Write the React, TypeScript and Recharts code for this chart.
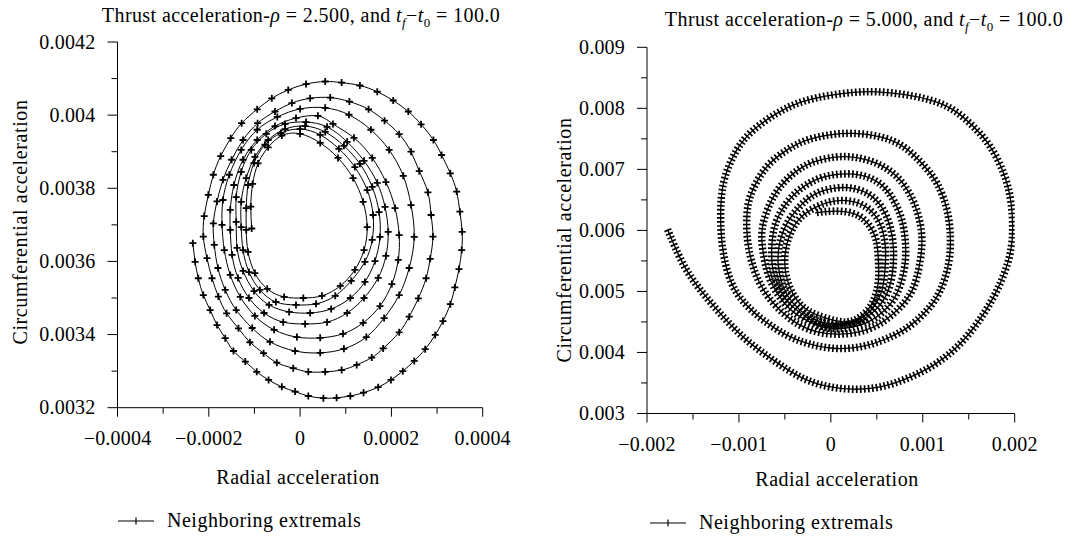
import React from 'react';
import { LineChart, Line, XAxis, YAxis } from 'recharts';

const FONT = "'Liberation Serif', 'Times New Roman', serif";

// left panel, rho = 2.5 (one row per loop)
const leftRadial = [
  -235e-6, -230e-6, -223e-6, -212e-6, -197e-6, -182e-6, -164e-6, -146e-6, -120e-6, -95e-6, -69e-6, -40e-6, -11e-6, 18e-6, 51e-6, 80e-6, 110e-6, 139e-6, 171e-6, 199e-6, 225e-6, 250e-6, 274e-6, 296e-6, 313e-6, 329e-6, 339e-6, 348e-6, 354e-6, 355e-6, 350e-6, 343e-6, 329e-6, 310e-6, 292e-6, 265e-6, 237e-6, 204e-6, 169e-6, 131e-6, 91e-6, 55e-6, 13e-6, -26e-6, -62e-6, -94e-6, -128e-6, -152e-6, -174e-6, -190e-6, -201e-6, -210e-6, -212e-6,
  -204e-6, -193e-6, -179e-6, -161e-6, -135e-6, -110e-6, -80e-6, -51e-6, -15e-6, 18e-6, 55e-6, 91e-6, 124e-6, 157e-6, 182e-6, 217e-6, 239e-6, 259e-6, 276e-6, 285e-6, 291e-6, 287e-6, 280e-6, 261e-6, 243e-6, 217e-6, 185e-6, 150e-6, 108e-6, 66e-6, 22e-6, -18e-6, -55e-6, -93e-6, -125e-6, -150e-6, -169e-6, -182e-6, -190e-6,
  -188e-6, -180e-6, -164e-6, -140e-6, -105e-6, -66e-6, -11e-6, 44e-6, 96e-6, 145e-6, 184e-6, 217e-6, 239e-6, 250e-6, 243e-6, 226e-6, 195e-6, 155e-6, 107e-6, 55e-6, 0, -50e-6, -94e-6, -129e-6, -155e-6, -169e-6, -171e-6,
  -166e-6, -153e-6, -131e-6, -99e-6, -57e-6, -7e-6, 44e-6, 94e-6, 138e-6, 175e-6, 201e-6, 215e-6, 217e-6, 208e-6, 188e-6, 158e-6, 118e-6, 72e-6, 39e-6, -9e-6, -55e-6, -94e-6, -125e-6, -145e-6, -153e-6, -153e-6,
  -149e-6, -136e-6, -112e-6, -79e-6, -37e-6, 11e-6, 59e-6, 103e-6, 140e-6, 171e-6, 188e-6, 193e-6, 186e-6, 169e-6, 140e-6, 103e-6, 59e-6, 13e-6, -33e-6, -74e-6, -107e-6, -129e-6, -140e-6, -140e-6,
  -138e-6, -125e-6, -101e-6, -68e-6, -24e-6, 22e-6, 68e-6, 110e-6, 142e-6, 164e-6, 175e-6, 173e-6, 158e-6, 131e-6, 96e-6, 55e-6, 11e-6, -33e-6, -70e-6, -99e-6, -118e-6, -129e-6, -129e-6,
  -125e-6, -112e-6, -88e-6, -53e-6, -9e-6, 35e-6, 77e-6, 112e-6, 142e-6, 158e-6, 160e-6, 147e-6, 120e-6, 85e-6, 44e-6, 0, -42e-6, -77e-6, -101e-6, -114e-6, -118e-6, -118e-6,
  -114e-6, -99e-6, -72e-6, -35e-6, 7e-6, 48e-6, 88e-6, 120e-6, 140e-6, 147e-6, 138e-6, 116e-6, 83e-6, 44e-6, 0, -40e-6, -70e-6, -92e-6, -104e-6, -108e-6, -106e-6,
];
const leftCircum = [
  3650e-6, 3599e-6, 3554e-6, 3508e-6, 3467e-6, 3426e-6, 3390e-6, 3355e-6, 3326e-6, 3298e-6, 3276e-6, 3257e-6, 3244e-6, 3232e-6, 3226e-6, 3227e-6, 3232e-6, 3241e-6, 3256e-6, 3276e-6, 3300e-6, 3328e-6, 3360e-6, 3399e-6, 3437e-6, 3483e-6, 3529e-6, 3579e-6, 3631e-6, 3681e-6, 3736e-6, 3791e-6, 3841e-6, 3891e-6, 3932e-6, 3975e-6, 4010e-6, 4040e-6, 4064e-6, 4081e-6, 4089e-6, 4092e-6, 4085e-6, 4069e-6, 4046e-6, 4016e-6, 3978e-6, 3937e-6, 3888e-6, 3837e-6, 3782e-6, 3724e-6, 3668e-6,
  3609e-6, 3554e-6, 3504e-6, 3458e-6, 3417e-6, 3379e-6, 3349e-6, 3323e-6, 3308e-6, 3298e-6, 3298e-6, 3303e-6, 3317e-6, 3337e-6, 3362e-6, 3406e-6, 3449e-6, 3499e-6, 3554e-6, 3607e-6, 3668e-6, 3727e-6, 3789e-6, 3847e-6, 3900e-6, 3948e-6, 3985e-6, 4016e-6, 4037e-6, 4048e-6, 4046e-6, 4033e-6, 4010e-6, 3978e-6, 3932e-6, 3878e-6, 3823e-6, 3764e-6, 3704e-6,
  3645e-6, 3582e-6, 3522e-6, 3467e-6, 3418e-6, 3380e-6, 3355e-6, 3350e-6, 3361e-6, 3393e-6, 3445e-6, 3508e-6, 3582e-6, 3667e-6, 3754e-6, 3834e-6, 3905e-6, 3960e-6, 4001e-6, 4020e-6, 4017e-6, 3995e-6, 3960e-6, 3905e-6, 3837e-6, 3768e-6, 3700e-6,
  3631e-6, 3563e-6, 3503e-6, 3451e-6, 3413e-6, 3393e-6, 3391e-6, 3402e-6, 3432e-6, 3478e-6, 3538e-6, 3604e-6, 3672e-6, 3746e-6, 3817e-6, 3883e-6, 3938e-6, 3976e-6, 3998e-6, 3992e-6, 3970e-6, 3932e-6, 3878e-6, 3809e-6, 3741e-6, 3686e-6,
  3618e-6, 3555e-6, 3500e-6, 3459e-6, 3434e-6, 3429e-6, 3434e-6, 3459e-6, 3500e-6, 3555e-6, 3615e-6, 3681e-6, 3749e-6, 3815e-6, 3875e-6, 3927e-6, 3968e-6, 3981e-6, 3976e-6, 3949e-6, 3905e-6, 3845e-6, 3776e-6, 3708e-6,
  3637e-6, 3574e-6, 3519e-6, 3481e-6, 3462e-6, 3459e-6, 3470e-6, 3500e-6, 3544e-6, 3601e-6, 3667e-6, 3735e-6, 3804e-6, 3867e-6, 3916e-6, 3954e-6, 3970e-6, 3962e-6, 3932e-6, 3886e-6, 3828e-6, 3763e-6, 3694e-6,
  3631e-6, 3571e-6, 3522e-6, 3489e-6, 3481e-6, 3484e-6, 3506e-6, 3547e-6, 3599e-6, 3659e-6, 3727e-6, 3795e-6, 3858e-6, 3908e-6, 3946e-6, 3962e-6, 3951e-6, 3919e-6, 3869e-6, 3809e-6, 3746e-6, 3686e-6,
  3626e-6, 3568e-6, 3525e-6, 3503e-6, 3500e-6, 3506e-6, 3533e-6, 3577e-6, 3631e-6, 3694e-6, 3763e-6, 3828e-6, 3883e-6, 3924e-6, 3949e-6, 3944e-6, 3912e-6, 3868e-6, 3812e-6, 3750e-6, 3690e-6,
];

// right panel, rho = 5.0
const rightRadial = [
  -1776e-6, -1696e-6, -1569e-6, -1388e-6, -1170e-6, -915e-6, -625e-6, -334e-6, -44e-6, 246e-6, 537e-6, 828e-6, 1118e-6, 1373e-6, 1590e-6, 1771e-6, 1899e-6, 1972e-6, 1961e-6, 1880e-6, 1735e-6, 1553e-6, 1335e-6, 1082e-6, 791e-6, 501e-6, 246e-6, -44e-6, -334e-6, -588e-6, -843e-6, -1024e-6, -1151e-6, -1195e-6, -1195e-6,
  -1162e-6, -1078e-6, -934e-6, -734e-6, -479e-6, -225e-6, 65e-6, 355e-6, 610e-6, 845e-6, 1046e-6, 1191e-6, 1281e-6, 1300e-6, 1264e-6, 1155e-6, 991e-6, 791e-6, 537e-6, 246e-6, -8e-6, -261e-6, -479e-6, -680e-6, -825e-6, -901e-6, -915e-6,
  -890e-6, -825e-6, -716e-6, -552e-6, -356e-6, -138e-6, 101e-6, 341e-6, 559e-6, 744e-6, 886e-6, 962e-6, 991e-6, 951e-6, 853e-6, 700e-6, 493e-6, 265e-6, 47e-6, -193e-6, -389e-6, -563e-6, -683e-6, -748e-6,
  -737e-6, -683e-6, -585e-6, -443e-6, -269e-6, -84e-6, 112e-6, 319e-6, 493e-6, 646e-6, 755e-6, 809e-6, 809e-6, 766e-6, 668e-6, 526e-6, 319e-6, 101e-6, -117e-6, -334e-6, -498e-6, -607e-6, -643e-6, -629e-6, -552e-6, -422e-6, -247e-6, -84e-6,
  123e-6, 308e-6, 472e-6, 602e-6, 668e-6, 682e-6, 646e-6, 559e-6, 428e-6, 243e-6, 47e-6, -171e-6, -346e-6, -487e-6, -563e-6, -571e-6, -520e-6, -411e-6, -247e-6, -51e-6,
  156e-6, 330e-6, 472e-6, 559e-6, 591e-6, 591e-6, 537e-6, 428e-6, 265e-6, 58e-6, -138e-6, -324e-6, -443e-6, -498e-6, -487e-6, -411e-6, -269e-6, -51e-6,
  167e-6, 330e-6, 450e-6, 515e-6, 518e-6, 493e-6, 406e-6, 265e-6, 47e-6, -171e-6,
];
const rightCircum = [
  6016e-6, 5731e-6, 5349e-6, 4967e-6, 4583e-6, 4201e-6, 3874e-6, 3600e-6, 3447e-6, 3398e-6, 3436e-6, 3574e-6, 3792e-6, 4092e-6, 4475e-6, 4911e-6, 5349e-6, 5840e-6, 6442e-6, 6934e-6, 7370e-6, 7697e-6, 7971e-6, 8135e-6, 8228e-6, 8271e-6, 8261e-6, 8205e-6, 8097e-6, 7917e-6, 7643e-6, 7315e-6, 6878e-6, 6442e-6, 6004e-6,
  5567e-6, 5131e-6, 4803e-6, 4529e-6, 4283e-6, 4136e-6, 4065e-6, 4103e-6, 4229e-6, 4419e-6, 4693e-6, 5021e-6, 5458e-6, 5894e-6, 6332e-6, 6770e-6, 7097e-6, 7370e-6, 7533e-6, 7589e-6, 7566e-6, 7479e-6, 7315e-6, 7070e-6, 6742e-6, 6414e-6, 6037e-6,
  5676e-6, 5316e-6, 4988e-6, 4693e-6, 4464e-6, 4333e-6, 4300e-6, 4349e-6, 4496e-6, 4726e-6, 5021e-6, 5414e-6, 5840e-6, 6250e-6, 6611e-6, 6906e-6, 7102e-6, 7196e-6, 7201e-6, 7119e-6, 6955e-6, 6693e-6, 6365e-6, 6004e-6,
  5644e-6, 5283e-6, 4972e-6, 4709e-6, 4529e-6, 4414e-6, 4393e-6, 4447e-6, 4578e-6, 4791e-6, 5103e-6, 5480e-6, 5840e-6, 6201e-6, 6529e-6, 6775e-6, 6906e-6, 6922e-6, 6857e-6, 6676e-6, 6414e-6, 6086e-6, 5709e-6, 5349e-6, 5021e-6, 4759e-6, 4562e-6, 4431e-6,
  4447e-6, 4513e-6, 4677e-6, 4939e-6, 5283e-6, 5676e-6, 6053e-6, 6365e-6, 6578e-6, 6688e-6, 6693e-6, 6594e-6, 6381e-6, 6086e-6, 5742e-6, 5414e-6, 5087e-6, 4808e-6, 4595e-6, 4480e-6,
  4475e-6, 4562e-6, 4759e-6, 5037e-6, 5398e-6, 5758e-6, 6103e-6, 6332e-6, 6463e-6, 6485e-6, 6398e-6, 6217e-6, 5939e-6, 5611e-6, 5267e-6, 4955e-6, 4709e-6, 4562e-6,
  4501e-6, 4595e-6, 4808e-6, 5136e-6, 5480e-6, 5840e-6, 6103e-6, 6267e-6, 6316e-6, 6288e-6,
];

const leftXTicks = [-0.0004, -0.0003, -0.0002, -0.0001, 0, 0.0001, 0.0002, 0.0003, 0.0004];
const leftXLabels = ['\u22120.0004', '', '\u22120.0002', '', '0', '', '0.0002', '', '0.0004'];
const leftYTicks = [0.0032, 0.0033, 0.0034, 0.0035, 0.0036, 0.0037, 0.0038, 0.0039, 0.004, 0.0041, 0.0042];
const leftYLabels = ['0.0032', '', '0.0034', '', '0.0036', '', '0.0038', '', '0.004', '', '0.0042'];
const rightXTicks = [-0.002, -0.0015, -0.001, -0.0005, 0, 0.0005, 0.001, 0.0015, 0.002];
const rightXLabels = ['\u22120.002', '', '\u22120.001', '', '0', '', '0.001', '', '0.002'];
const rightYTicks = [0.003, 0.0035, 0.004, 0.0045, 0.005, 0.0055, 0.006, 0.0065, 0.007, 0.0075, 0.008, 0.0085, 0.009];
const rightYLabels = ['0.003', '', '0.004', '', '0.005', '', '0.006', '', '0.007', '', '0.008', '', '0.009'];

const toRows = (xs: number[], ys: number[]) =>
  xs.slice(0, Math.min(xs.length, ys.length)).map((x, i) => ({ x, y: ys[i] }));

const leftData = toRows(leftRadial, leftCircum);
const rightData = toRows(rightRadial, rightCircum);

const labelFor = (ticks: number[], labels: string[], v: number) => {
  const i = ticks.findIndex((t) => Math.abs(t - v) < 1e-9);
  return i >= 0 ? labels[i] : '';
};

const makeXTick = (ticks: number[], labels: string[]) => (props: any) => {
  const { x, y, payload } = props;
  const label = labelFor(ticks, labels, payload.value);
  const len = label ? 9 : 6;
  return (
    <g>
      <line x1={x} x2={x} y1={y} y2={y + len} stroke="#000" strokeWidth={1} />
      <text x={x} y={y + 37} textAnchor="middle" fontFamily={FONT} fontSize={20} letterSpacing={0.2} fill="#000">
        {label}
      </text>
    </g>
  );
};

const makeYTick = (ticks: number[], labels: string[]) => (props: any) => {
  const { x, y, payload } = props;
  const label = labelFor(ticks, labels, payload.value);
  const len = label ? 10 : 6;
  return (
    <g>
      <line x1={x - len} x2={x} y1={y} y2={y} stroke="#000" strokeWidth={1} />
      <text x={x - 22} y={y + 6.5} textAnchor="end" fontFamily={FONT} fontSize={20} letterSpacing={0.2} fill="#000">
        {label}
      </text>
    </g>
  );
};

const Plus = (props: any) => {
  const { cx, cy, index } = props;
  if (cx == null || cy == null) return <g key={`p${index}`} />;
  return (
    <path
      key={`p${index}`}
      d={`M${cx - 3.5} ${cy}H${cx + 3.5}M${cx} ${cy - 3.5}V${cy + 3.5}`}
      stroke="#000"
      strokeWidth={1.8}
      fill="none"
    />
  );
};

const Title = ({ rho }: { rho: string }) => (
  <span>
    Thrust acceleration-<i>ρ</i> = {rho}, and <i>t</i>
    <sub style={{ fontSize: 13, lineHeight: 0 }}><i>f</i></sub>
    {'\u2212'}
    <i>t</i>
    <sub style={{ fontSize: 13, lineHeight: 0 }}>0</sub> = 100.0
  </span>
);

const LegendKey = ({ left, top }: { left: number; top: number }) => (
  <div style={{ position: 'absolute', left, top, display: 'flex', alignItems: 'center', whiteSpace: 'nowrap', letterSpacing: 0.5 }}>
    <svg width={36} height={12} style={{ marginRight: 13 }}>
      <line x1={0} x2={36} y1={6} y2={6} stroke="#000" strokeWidth={1} />
      <line x1={18} x2={18} y1={2.5} y2={9.5} stroke="#000" strokeWidth={1.2} />
    </svg>
    <span>Neighboring extremals</span>
  </div>
);

const abs = (left: number, top: number, extra: React.CSSProperties = {}): React.CSSProperties => ({
  position: 'absolute',
  left,
  top,
  whiteSpace: 'nowrap',
  lineHeight: '24px',
  ...extra,
});

export default function App() {
  return (
    <div
      style={{
        position: 'absolute',
        left: 0,
        top: 0,
        width: 1074,
        height: 539,
        background: '#fff',
        fontFamily: FONT,
        fontSize: 20,
        color: '#000',
        overflow: 'hidden',
      }}
    >
      <div style={{ position: 'absolute', left: 0, top: 0 }}>
        <LineChart width={540} height={539} data={leftData} margin={{ top: 42, right: 57.3, bottom: 101.3, left: 57.5 }}>
          <XAxis
            dataKey="x"
            type="number"
            domain={[-0.0004, 0.0004]}
            ticks={leftXTicks}
            interval={0}
            height={30}
            tickSize={0}
            tickMargin={0}
            tickLine={false}
            tick={makeXTick(leftXTicks, leftXLabels)}
            axisLine={{ stroke: '#000', strokeWidth: 1 }}
            allowDataOverflow
          />
          <YAxis
            type="number"
            domain={[0.0032, 0.0042]}
            ticks={leftYTicks}
            interval={0}
            width={60}
            tickSize={0}
            tickMargin={0}
            tickLine={false}
            tick={makeYTick(leftYTicks, leftYLabels)}
            axisLine={{ stroke: '#000', strokeWidth: 1 }}
            allowDataOverflow
          />
          <Line
            type="natural"
            dataKey="y"
            stroke="#000"
            strokeWidth={1}
            dot={Plus}
            activeDot={false}
            isAnimationActive={false}
          />
        </LineChart>
      </div>

      <div style={{ position: 'absolute', left: 540, top: 0 }}>
        <LineChart width={534} height={539} data={rightData} margin={{ top: 47.3, right: 59.3, bottom: 95.5, left: 47 }}>
          <XAxis
            dataKey="x"
            type="number"
            domain={[-0.002, 0.002]}
            ticks={rightXTicks}
            interval={0}
            height={30}
            tickSize={0}
            tickMargin={0}
            tickLine={false}
            tick={makeXTick(rightXTicks, rightXLabels)}
            axisLine={{ stroke: '#000', strokeWidth: 1 }}
            allowDataOverflow
          />
          <YAxis
            type="number"
            domain={[0.003, 0.009]}
            ticks={rightYTicks}
            interval={0}
            width={60}
            tickSize={0}
            tickMargin={0}
            tickLine={false}
            tick={makeYTick(rightYTicks, rightYLabels)}
            axisLine={{ stroke: '#000', strokeWidth: 1 }}
            allowDataOverflow
          />
          <Line
            name="path"
            type="natural"
            dataKey="y"
            stroke="#000"
            strokeWidth={1.3}
            dot={false}
            activeDot={false}
            isAnimationActive={false}
          />
          <Line
            name="markers"
            type="natural"
            dataKey="y"
            stroke="#000"
            strokeWidth={7.5}
            strokeDasharray="1.7 2.3"
            dot={false}
            activeDot={false}
            isAnimationActive={false}
          />
        </LineChart>
      </div>

      <div style={abs(0, 3, { width: 602, textAlign: 'center', letterSpacing: 0.4 })}>
        <Title rho="2.500" />
      </div>
      <div style={abs(614, 7, { width: 500, textAlign: 'center', letterSpacing: 0.4 })}>
        <Title rho="5.000" />
      </div>

      <div style={abs(198, 465, { width: 200, textAlign: 'center', letterSpacing: 0.5 })}>Radial acceleration</div>
      <div style={abs(737, 467, { width: 200, textAlign: 'center', letterSpacing: 0.5 })}>Radial acceleration</div>

      <div style={abs(20, 222, { transform: 'translate(-50%, -50%) rotate(-90deg)', letterSpacing: 0.6 })}>
        Circumferential acceleration
      </div>
      <div style={abs(564, 240, { transform: 'translate(-50%, -50%) rotate(-90deg)', letterSpacing: 0.6 })}>
        Circumferential acceleration
      </div>

      <LegendKey left={118} top={509} />
      <LegendKey left={650} top={511} />
    </div>
  );
}
